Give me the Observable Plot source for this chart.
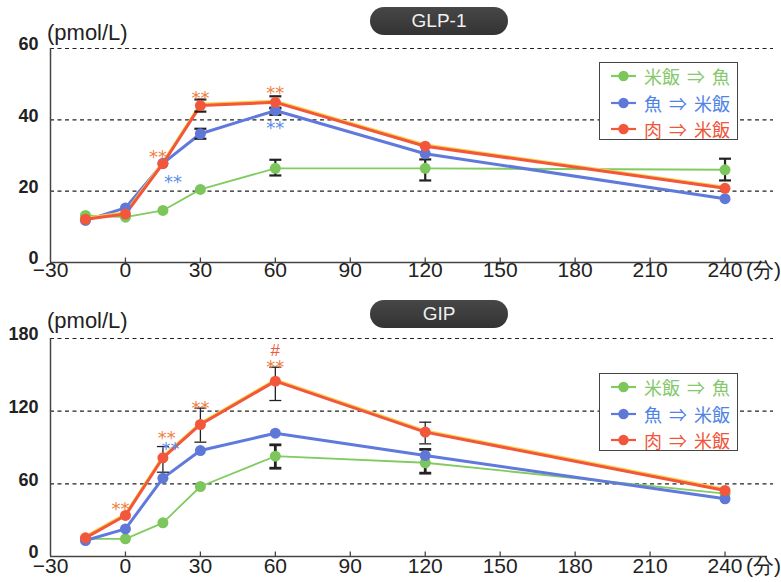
<!DOCTYPE html>
<html>
<head>
<meta charset="utf-8">
<script src="https://cdn.jsdelivr.net/npm/d3@7"></script>
<script src="https://cdn.jsdelivr.net/npm/@observablehq/plot@0.6"></script>
<style>
  html, body { margin: 0; padding: 0; background: #fff; }
  #wrap { position: relative; width: 781px; height: 582px; overflow: hidden; font-family: "Liberation Sans", Arial, sans-serif; }
  .panel { position: absolute; left: 0; }
  .pill { position: absolute; left: 370px; width: 138px; height: 28px; border-radius: 14px;
          background: linear-gradient(#474747, #333); color: #f0f0f0; font-size: 19px; line-height: 28px;
          text-align: center; font-family: "Liberation Sans", Arial, sans-serif; }
  .unit { position: absolute; left: 47px; font-size: 22px; color: #222; line-height: 1; }
  .legend { position: absolute; left: 599px; width: 137px; height: 76px; border: 1.5px solid #444; background: #fff; }
  .legend .row { position: absolute; left: 0; height: 24px; display: flex; align-items: center; }
  .legend .row svg { margin-left: 10px; }
  .legend .row span { margin-left: 7px; font-family: "Noto Sans CJK JP", sans-serif; font-size: 18px; word-spacing: 3px; white-space: nowrap; line-height: 24px; }
</style>
</head>
<body>
<div id="wrap"></div>
<script>
// ---------- data ----------
const seriesNames = ["米飯 ⇒ 魚", "魚 ⇒ 米飯", "肉 ⇒ 米飯"];
const times = [-16, 0, 15, 30, 60, 120, 240];

// GLP-1 (pmol/L)
const glpRiceFish = [13.2, 12.7, 14.6, 20.5, 26.4, 26.4, 26.0];
const glpFishRice = [11.8, 15.3, 27.8, 36.1, 42.6, 30.5, 17.9];
const glpMeatRice = [12.1, 13.6, 27.7, 44.0, 44.9, 32.6, 20.8];

// GIP (pmol/L)
const gipRiceFish = [14.6, 14.6, 27.8, 57.8, 82.8, 77.4, 52.0];
const gipFishRice = [13.2, 22.8, 64.7, 87.5, 101.8, 83.4, 47.6];
const gipMeatRice = [15.4, 33.9, 81.5, 109.0, 144.8, 102.7, 54.5];

// error bars (series index, time, low, high)
const glpErrors = [
  {s: 2, t: 30, lo: 42.3, hi: 45.7},
  {s: 1, t: 30, lo: 34.7, hi: 37.5},
  {s: 2, t: 60, lo: 43.2, hi: 46.6},
  {s: 1, t: 60, lo: 41.4, hi: 43.4},
  {s: 0, t: 60, lo: 24.4, hi: 28.8},
  {s: 0, t: 120, lo: 23.0, hi: 28.9},
  {s: 0, t: 240, lo: 23.0, hi: 29.1}
];
const gipErrors = [
  {s: 2, t: 15, lo: 69.6, hi: 90.8},
  {s: 2, t: 30, lo: 94.4, hi: 122.5},
  {s: 2, t: 60, lo: 128.8, hi: 156.3},
  {s: 0, t: 60, lo: 72.9, hi: 92.2},
  {s: 2, t: 120, lo: 93.0, hi: 110.9},
  {s: 0, t: 120, lo: 68.8, hi: 88.4}
];

// significance marks (series index, time, value, label)
const glpNotes = [
  {s: 2, t: 13, v: 30.8, label: "**"},
  {s: 1, t: 19, v: 23.8, label: "**"},
  {s: 2, t: 30, v: 47.4, label: "**"},
  {s: 2, t: 60, v: 48.8, label: "**"},
  {s: 1, t: 60, v: 39.0, label: "**"}
];
const gipNotes = [
  {s: 2, t: -2, v: 43.5, label: "**"},
  {s: 2, t: 16.5, v: 101.5, label: "**"},
  {s: 1, t: 18, v: 93.0, label: "**"},
  {s: 2, t: 30, v: 126.6, label: "**"},
  {s: 2, t: 60, v: 160.4, label: "**"},
  {s: 2, t: 60, v: 170.1, label: "#"}
];

const xTicks = [-30, 0, 30, 60, 90, 120, 150, 180, 210, 240];
const xTickLabels = ["−30", "0", "30", "60", "90", "120", "150", "180", "210", "240"];
const xUnit = "(分)";
const glpYTicks = [0, 20, 40, 60];
const gipYTicks = [0, 60, 120, 180];
const yUnit = "(pmol/L)";
const titles = ["GLP-1", "GIP"];

// ---------- styles ----------
const lineColors = ["#82cb60", "#6079dc", "#f2573c"];
const dotColors = ["#7cc65c", "#5f78d8", "#f2573c"];
const textColors = ["#86c86c", "#4f84e6", "#f0553a"];
const noteColors = ["#86c86c", "#5b8de6", "#f08040"];
const xDomain = [-30, 257];

const vTick = {draw(ctx) { ctx.moveTo(0, 0); ctx.lineTo(0, -5); }};
const hCap = {draw(ctx) { ctx.moveTo(-6, 0); ctx.lineTo(6, 0); }};

function panel({series, errors, notes, yTicks, marginTop, marginBottom, labelDy, errWidth}) {
  const rows = series.flatMap((vals, s) => times.map((t, i) => ({s, t, v: vals[i]})));
  const caps = errors.flatMap(e => [{...e, y: e.lo}, {...e, y: e.hi}]);
  const ticksLabeled = xTicks.map((x, i) => ({x, label: xTickLabels[i]}));
  const marks = [
    Plot.ruleY(yTicks.filter(d => d > 0), {y: d => d, stroke: "#222", strokeWidth: 1.2, strokeDasharray: "4,3.5", insetRight: -6}),
    Plot.ruleY([yTicks[0]], {y: d => d, stroke: "#444", strokeWidth: 1.5}),
    Plot.ruleX([xDomain[0]], {x: d => d, stroke: "#444", strokeWidth: 1.5}),
    Plot.dot(xTicks.slice(1), {x: d => d, frameAnchor: "bottom", symbol: vTick, fill: "none", stroke: "#444", strokeWidth: 1.3}),
    Plot.text(ticksLabeled, {x: "x", text: "label", frameAnchor: "bottom", dy: labelDy, fontSize: 21, fill: "#222"}),
    Plot.text([xUnit], {x: () => xTicks[xTicks.length - 1], text: d => d, frameAnchor: "bottom", dy: labelDy, dx: 21, textAnchor: "start", fontSize: 21, fill: "#222"}),
    Plot.text(yTicks, {y: d => d, text: d => String(d), frameAnchor: "left", textAnchor: "end", dx: -12, dy: -4, fontSize: 18, fontWeight: "bold", fill: "#222"})
  ];
  // lines
  [0, 1, 2].forEach(s => {
    const d = rows.filter(r => r.s === s);
    if (s === 2) marks.push(Plot.line(d, {x: "t", y: "v", stroke: "#f6d24c", strokeWidth: 3, dy: -1.2}));
    marks.push(Plot.line(d, {x: "t", y: "v", stroke: lineColors[s], strokeWidth: s === 0 ? 1.8 : 3}));
  });
  // error bars
  marks.push(Plot.ruleX(errors, {x: "t", y1: "lo", y2: "hi", stroke: "#222", strokeWidth: e => errWidth(e)}));
  marks.push(Plot.dot(caps, {x: "t", y: "y", symbol: hCap, fill: "none", stroke: "#222", strokeWidth: e => errWidth(e), r: 3}));
  // dots
  [0, 1, 2].forEach(s => {
    marks.push(Plot.dot(rows.filter(r => r.s === s), {x: "t", y: "v", r: 5.5, fill: dotColors[s], stroke: "none"}));
  });
  // significance notes
  [0, 1, 2].forEach(s => {
    const ast = notes.filter(n => n.s === s && n.label === "**");
    const hash = notes.filter(n => n.s === s && n.label === "#");
    if (ast.length) marks.push(Plot.text(ast, {x: "t", y: "v", text: "label", fill: noteColors[s], fontSize: 18, fontFamily: "DejaVu Sans, sans-serif", dy: 5}));
    if (hash.length) marks.push(Plot.text(hash, {x: "t", y: "v", text: "label", fill: lineColors[2], fontSize: 17}));
  });
  return Plot.plot({
    width: 781,
    height: 291,
    marginLeft: 50,
    marginRight: 14,
    marginTop,
    marginBottom,
    style: {fontFamily: "Liberation Sans, Arial, sans-serif", background: "transparent", overflow: "visible"},
    x: {domain: xDomain, axis: null},
    y: {domain: [yTicks[0], yTicks[yTicks.length - 1]], axis: null},
    marks
  });
}

const wrap = document.getElementById("wrap");

function addPanel(top, cfg, title, pillTop, unitTop, legendTop) {
  const div = document.createElement("div");
  div.className = "panel";
  div.style.top = top + "px";
  div.appendChild(panel(cfg));
  wrap.appendChild(div);

  const pill = document.createElement("div");
  pill.className = "pill";
  pill.style.top = pillTop + "px";
  pill.textContent = title;
  wrap.appendChild(pill);

  const unit = document.createElement("div");
  unit.className = "unit";
  unit.style.top = unitTop + "px";
  unit.textContent = yUnit;
  wrap.appendChild(unit);

  const lg = document.createElement("div");
  lg.className = "legend";
  lg.style.top = legendTop + "px";
  seriesNames.forEach((name, s) => {
    const row = document.createElement("div");
    row.className = "row";
    row.style.top = (1 + s * 26.5) + "px";
    row.innerHTML = `<svg width="27" height="14"><line x1="1" y1="7" x2="26" y2="7" stroke="${lineColors[s]}" stroke-width="2.2"/><circle cx="13.5" cy="7" r="5.2" fill="${dotColors[s]}"/></svg>`;
    const sp = document.createElement("span");
    sp.style.color = textColors[s];
    sp.textContent = name;
    row.appendChild(sp);
    lg.appendChild(row);
  });
  wrap.appendChild(lg);
}

addPanel(0, {
  series: [glpRiceFish, glpFishRice, glpMeatRice],
  errors: glpErrors, notes: glpNotes, yTicks: glpYTicks,
  marginTop: 48, marginBottom: 29, labelDy: 14,
  errWidth: () => 2.2
}, titles[0], 7, 22, 62);

addPanel(291, {
  series: [gipRiceFish, gipFishRice, gipMeatRice],
  errors: gipErrors, notes: gipNotes, yTicks: gipYTicks,
  marginTop: 47, marginBottom: 26, labelDy: 16,
  errWidth: e => (e.s === 2 ? 1.3 : 2.8)
}, titles[1], 300, 310, 373);
</script>
</body>
</html>
